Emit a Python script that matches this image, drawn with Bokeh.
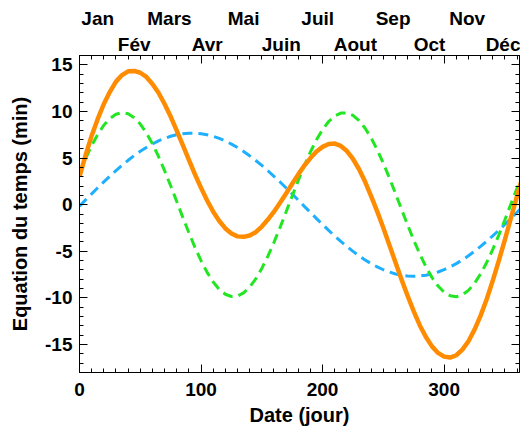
from bokeh.plotting import figure
from bokeh.models import LinearAxis, FixedTicker, Range1d, CustomJSTickFormatter
from bokeh.embed import file_html
from bokeh.resources import INLINE

# Day of year
days = list(range(0, 370, 5))

# Equation of time (min), total (orange)
eot_total = [3.0, 5.3, 7.4, 9.2, 10.8, 12.1, 13.2, 13.9, 14.3, 14.35,
             14.15, 13.7, 12.95, 12.0, 10.8, 9.45, 7.95, 6.4, 4.8, 3.25,
             1.8, 0.45, -0.75, -1.75, -2.55, -3.1, -3.4, -3.45, -3.3, -2.95,
             -2.35, -1.6, -0.75, 0.2, 1.2, 2.25, 3.25, 4.2, 5.0, 5.7,
             6.2, 6.5, 6.55, 6.3, 5.75, 4.9, 3.8, 2.45, 0.9, -0.75,
             -2.5, -4.35, -6.2, -8.05, -9.8, -11.45, -12.95, -14.2, -15.2, -15.9,
             -16.3, -16.4, -16.15, -15.55, -14.65, -13.4, -11.9, -10.15, -8.15, -6.0,
             -3.75, -1.4, 0.95, 3.2]

# Obliquity component (green dashed)
eot_obliquity = [3.41, 4.95, 6.34, 7.54, 8.52, 9.25, 9.70, 9.87, 9.75, 9.33,
                 8.65, 7.70, 6.53, 5.17, 3.65, 2.03, 0.34, -1.36, -3.01, -4.58,
                 -6.01, -7.26, -8.30, -9.09, -9.61, -9.85, -9.80, -9.46, -8.84, -7.96,
                 -6.84, -5.52, -4.04, -2.44, -0.76, 0.93, 2.60, 4.20, 5.66, 6.96,
                 8.06, 8.92, 9.51, 9.82, 9.84, 9.57, 9.02, 8.20, 7.14, 5.87,
                 4.43, 2.85, 1.19, -0.51, -2.19, -3.81, -5.31, -6.66, -7.81, -8.73,
                 -9.39, -9.77, -9.87, -9.67, -9.19, -8.43, -7.43, -6.21, -4.80, -3.25,
                 -1.61, 0.09, 1.78, 3.41]

# Eccentricity component (blue dashed)
eot_eccentricity = [-0.15, 0.51, 1.16, 1.81, 2.45, 3.06, 3.66, 4.22, 4.76, 5.26,
                    5.72, 6.14, 6.51, 6.84, 7.11, 7.34, 7.50, 7.62, 7.67, 7.67,
                    7.61, 7.50, 7.33, 7.11, 6.83, 6.50, 6.13, 5.71, 5.24, 4.74,
                    4.21, 3.64, 3.04, 2.43, 1.79, 1.14, 0.49, -0.18, -0.84, -1.49,
                    -2.13, -2.76, -3.36, -3.94, -4.49, -5.01, -5.49, -5.93, -6.33, -6.68,
                    -6.98, -7.23, -7.43, -7.57, -7.65, -7.68, -7.65, -7.56, -7.42, -7.22,
                    -6.97, -6.67, -6.32, -5.92, -5.48, -5.00, -4.48, -3.93, -3.34, -2.74,
                    -2.11, -1.47, -0.81, -0.15]

# Month labels (top axis) at mid-month day, in two staggered rows
months_row1 = ["Jan", "Mars", "Mai", "Juil", "Sep", "Nov"]
days_row1 = [15, 74, 135, 196, 258, 319]
months_row2 = ["Fév", "Avr", "Juin", "Aout", "Oct", "Déc"]
days_row2 = [45, 105, 166, 227, 288, 349]

x_ticks = [0, 100, 200, 300]
x_minor = list(range(0, 370, 10))
y_ticks = [-15, -10, -5, 0, 5, 10, 15]
y_minor = list(range(-18, 17, 1))

FONT = "Liberation Sans"

p = figure(width=520, height=429, x_range=Range1d(0, 362), y_range=Range1d(-18, 16),
           output_backend="svg", toolbar_location=None,
           min_border_left=79, min_border_top=55, min_border_right=1, min_border_bottom=57,
           x_axis_label="Date (jour)", y_axis_label="Equation du temps (min)")
p.grid.visible = False
p.outline_line_color = "black"
p.outline_line_width = 1
p.background_fill_color = "white"
p.border_fill_color = "white"

xax = p.xaxis[0]
xax.ticker = FixedTicker(ticks=x_ticks, minor_ticks=x_minor)
yax = p.yaxis[0]
yax.ticker = FixedTicker(ticks=y_ticks, minor_ticks=y_minor)
yax.major_label_overrides = {t: str(t) for t in y_ticks}
for ax in (xax, yax):
    ax.major_tick_in = 8
    ax.major_tick_out = 0
    ax.minor_tick_in = 4
    ax.minor_tick_out = 0
    ax.major_label_text_font = FONT
    ax.major_label_text_font_style = "bold"
    ax.major_label_text_font_size = "19px"
    ax.major_label_text_color = "black"
    ax.axis_label_text_font = FONT
    ax.axis_label_text_font_style = "bold"
    ax.axis_label_text_font_size = "20px"
    ax.axis_label_text_color = "black"
xax.major_label_standoff = 10
xax.axis_label_standoff = 5
yax.major_label_standoff = 7
yax.axis_label_standoff = 11

blank = CustomJSTickFormatter(code="return ''")
top = LinearAxis(ticker=FixedTicker(ticks=x_ticks, minor_ticks=x_minor), formatter=blank)
right = LinearAxis(ticker=FixedTicker(ticks=y_ticks, minor_ticks=y_minor), formatter=blank)
for ax in (top, right):
    ax.major_tick_in = 8
    ax.major_tick_out = 0
    ax.minor_tick_in = 4
    ax.minor_tick_out = 0
    ax.major_label_standoff = 0
p.add_layout(top, "above")
p.add_layout(right, "right")

def month_axis(names, ds, standoff):
    ax = LinearAxis(ticker=FixedTicker(ticks=ds, minor_ticks=[]))
    ax.major_label_overrides = {d: n for d, n in zip(ds, names)}
    ax.major_tick_in = 0
    ax.major_tick_out = 0
    ax.minor_tick_in = 0
    ax.minor_tick_out = 0
    ax.axis_line_color = None
    ax.major_tick_line_color = None
    ax.minor_tick_line_color = None
    ax.major_label_standoff = standoff
    ax.major_label_text_font = FONT
    ax.major_label_text_font_style = "bold"
    ax.major_label_text_font_size = "19px"
    ax.major_label_text_color = "black"
    return ax

p.add_layout(month_axis(months_row2, days_row2, 1), "above")
p.add_layout(month_axis(months_row1, days_row1, 2), "above")

# Curves
p.line(days, eot_eccentricity, line_color="#1EB0FF", line_width=3, line_dash="10 6")
p.line(days, eot_obliquity, line_color="#22E622", line_width=3, line_dash="10 6")
p.line(days, eot_total, line_color="#FF8C00", line_width=4.5, line_join="round")

open("out.html", "w").write(file_html(p, INLINE))
